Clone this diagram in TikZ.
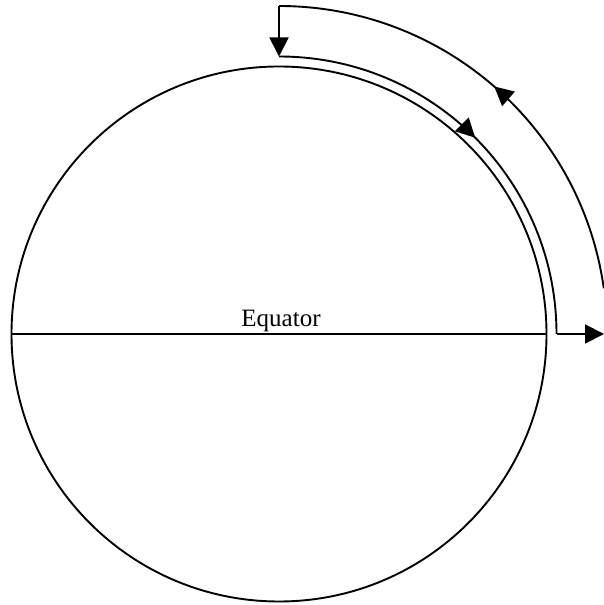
\documentclass[tikz,border=0pt]{standalone}
\usepackage{fontspec}
\setmainfont{Liberation Serif}
\usetikzlibrary{
    arrows.meta,
    calc,
    decorations.markings
}
\tikzset{
  wire/.style    = {line width=1.9pt},
  tip/.style     = {-{Triangle[length=19pt, width=19pt]}},
  midtip/.style  = {postaction={decorate}, decoration={markings,
                    mark=at position 0.5 with {\arrow{Triangle[length=19pt, width=19pt]}}}}
}

\begin{document}
\begin{tikzpicture}[x=1pt, y=1pt]
\useasboundingbox (0,0) rectangle (604,605);

% globe
\coordinate (c) at (279,271);
\node[circle, draw, wire, minimum size=535pt, inner sep=0pt] (globe) at (c) {};
\draw[wire] (globe.west) -- (globe.east);
\node[anchor=base, font=\fontsize{25}{30}\selectfont] (eq) at (281,278) {Equator};

% arc end points
\coordinate (outR) at ($(c)+(8:328pt)$);
\coordinate (outT) at ($(c)+(90:328pt)$);
\coordinate (inT)  at ($(c)+(90:277.5pt)$);
\coordinate (inR)  at ($(c)+(0:277.5pt)$);
\coordinate (out)  at (604,271);

% outer arc, upward
\draw[wire, midtip] (outR) arc[start angle=8, end angle=90, radius=328pt];
\draw[wire, tip] (outT) -- (inT);

% inner arc, downward
\draw[wire, midtip] (inT) arc[start angle=90, end angle=0, radius=277.5pt];
\draw[wire, tip] (inR) -- (out);

\end{tikzpicture}
\end{document}
